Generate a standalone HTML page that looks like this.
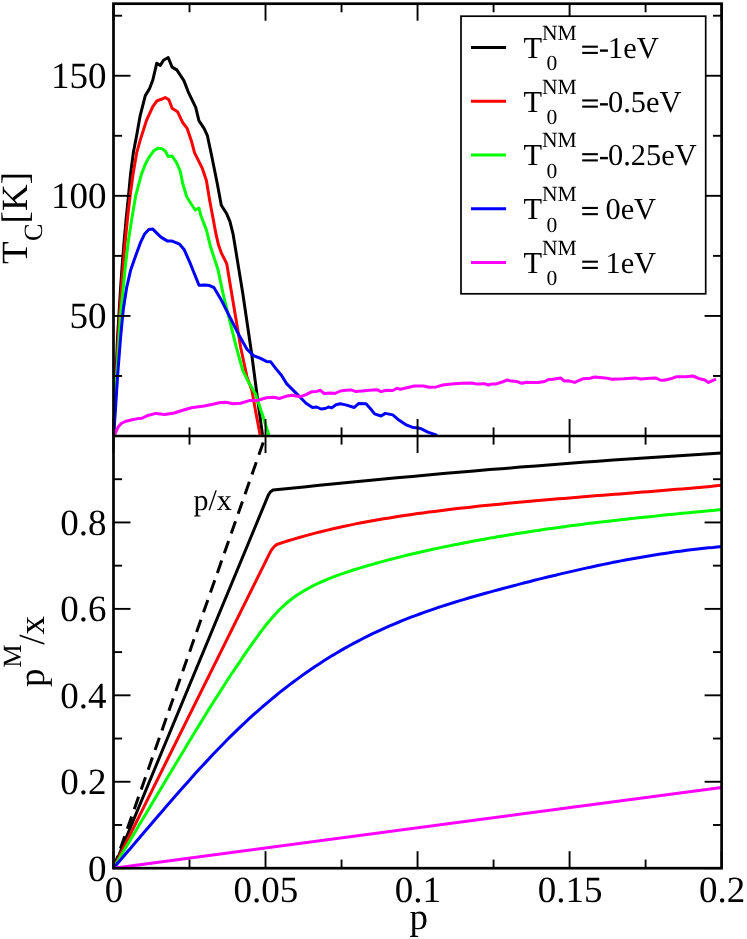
<!DOCTYPE html>
<html><head><meta charset="utf-8"><title>chart</title>
<style>html,body{margin:0;padding:0;background:#fff;}svg{display:block;will-change:transform;transform:translateZ(0);}text{font-family:"Liberation Serif",serif;fill:#000;text-rendering:geometricPrecision;}</style></head><body>
<svg width="747" height="939" viewBox="0 0 747 939">
<rect x="0" y="0" width="747" height="939" fill="#fff"/>
<defs><clipPath id="ct"><rect x="112.0" y="3.7" width="609.6" height="433.8"/></clipPath>
<clipPath id="cb"><rect x="112.0" y="437.4" width="609.6" height="432.2"/></clipPath></defs>
<g>
<line x1="113.5" y1="868.2" x2="265.5" y2="436.0" stroke="#000" stroke-width="3.0" stroke-dasharray="13 7.87" clip-path="url(#cb)"/>
<polyline points="113.5,868.2 268.2,495.4 270.3,492.0 273.0,490.1 288.5,488.5 303.9,486.9 319.4,485.3 334.9,483.8 350.3,482.2 365.8,480.7 381.3,479.3 396.8,477.8 412.2,476.4 427.7,475.0 443.2,473.6 458.6,472.3 474.1,470.9 489.6,469.6 505.0,468.4 520.5,467.1 536.0,465.9 551.4,464.7 566.9,463.5 582.4,462.3 597.8,461.2 613.3,460.1 628.8,459.0 644.3,457.9 659.7,456.9 675.2,455.9 690.7,454.9 706.1,453.9 721.6,452.9" fill="none" stroke="#000" stroke-width="3.0" stroke-linejoin="round" stroke-linecap="butt" clip-path="url(#cb)" />
<polyline points="113.5,868.2 271.0,550.7 272.6,548.6 274.4,546.4 276.8,544.5 282.4,542.6 288.1,540.8 293.7,539.1 299.3,537.5 305.0,535.9 310.6,534.4 316.2,532.9 321.8,531.5 327.5,530.1 333.1,528.8 338.7,527.5 344.4,526.3 350.0,525.1 355.6,523.9 361.3,522.8 366.9,521.8 372.5,520.7 378.1,519.8 383.8,518.8 389.4,517.9 395.0,517.0 400.7,516.1 406.3,515.2 411.9,514.4 417.6,513.6 423.2,512.9 428.8,512.1 434.5,511.4 440.1,510.7 445.7,510.0 451.3,509.3 457.0,508.6 462.6,508.0 468.2,507.4 473.9,506.7 479.5,506.1 485.1,505.6 490.8,505.0 496.4,504.4 502.0,503.9 507.6,503.3 513.3,502.8 518.9,502.3 524.5,501.7 530.2,501.2 535.8,500.7 541.4,500.2 547.1,499.8 552.7,499.3 558.3,498.8 563.9,498.4 569.6,497.9 575.2,497.4 580.8,497.0 586.5,496.5 592.1,496.1 597.7,495.6 603.4,495.2 609.0,494.8 614.6,494.3 620.3,493.9 625.9,493.4 631.5,493.0 637.1,492.5 642.8,492.1 648.4,491.7 654.0,491.2 659.7,490.7 665.3,490.3 670.9,489.8 676.6,489.3 682.2,488.9 687.8,488.4 693.4,487.9 699.1,487.4 704.7,486.9 710.3,486.4 716.0,485.8 721.6,485.3" fill="none" stroke="#f00" stroke-width="3.0" stroke-linejoin="round" stroke-linecap="butt" clip-path="url(#cb)" />
<polyline points="113.5,868.2 117.9,860.9 122.2,853.5 126.6,846.2 131.0,838.8 135.4,831.5 139.7,824.1 144.1,816.8 148.5,809.4 152.9,802.1 157.2,794.8 161.6,787.4 166.0,780.1 170.4,772.8 174.7,765.5 179.1,758.2 183.5,750.9 187.9,743.6 192.2,736.4 196.6,729.2 201.0,722.1 205.4,715.0 209.7,707.9 214.1,701.0 218.5,694.1 222.9,687.2 227.2,680.5 231.6,673.8 236.0,667.3 240.4,660.8 244.7,654.4 249.1,648.1 253.5,641.9 257.9,635.8 262.2,629.9 266.6,624.3 271.0,619.0 275.4,614.1 279.7,609.5 284.1,605.3 288.5,601.5 292.9,598.0 297.2,595.0 301.6,592.2 306.0,589.6 310.4,587.2 314.7,585.0 319.1,582.9 323.5,581.0 327.9,579.2 332.2,577.4 336.6,575.7 341.0,574.2 345.4,572.6 349.7,571.2 354.1,569.8 358.5,568.4 362.9,567.1 367.2,565.8 371.6,564.6 376.0,563.3 380.4,562.1 384.7,560.9 389.1,559.8 393.5,558.6 397.9,557.5 402.2,556.4 406.6,555.3 411.0,554.3 415.4,553.2 419.7,552.2 424.1,551.2 428.5,550.3 432.9,549.3 437.2,548.4 441.6,547.4 446.0,546.5 450.4,545.6 454.7,544.7 459.1,543.9 463.5,543.0 467.9,542.2 472.2,541.3 476.6,540.5 481.0,539.7 485.4,538.9 489.7,538.1 494.1,537.4 498.5,536.6 502.9,535.9 507.2,535.2 511.6,534.4 516.0,533.7 520.4,533.0 524.7,532.4 529.1,531.7 533.5,531.0 537.9,530.4 542.2,529.7 546.6,529.1 551.0,528.5 555.4,527.9 559.7,527.3 564.1,526.7 568.5,526.1 572.9,525.5 577.2,525.0 581.6,524.4 586.0,523.8 590.4,523.3 594.7,522.8 599.1,522.2 603.5,521.7 607.9,521.2 612.2,520.7 616.6,520.2 621.0,519.7 625.4,519.2 629.7,518.7 634.1,518.3 638.5,517.8 642.9,517.3 647.2,516.9 651.6,516.4 656.0,516.0 660.4,515.5 664.7,515.1 669.1,514.6 673.5,514.2 677.9,513.8 682.2,513.3 686.6,512.9 691.0,512.5 695.4,512.1 699.7,511.7 704.1,511.2 708.5,510.8 712.9,510.4 717.2,510.0 721.6,509.6" fill="none" stroke="#0f0" stroke-width="3.0" stroke-linejoin="round" stroke-linecap="butt" clip-path="url(#cb)" />
<polyline points="113.5,868.2 117.9,863.1 122.2,858.0 126.6,852.8 131.0,847.7 135.4,842.6 139.7,837.5 144.1,832.3 148.5,827.2 152.9,822.1 157.2,817.0 161.6,811.9 166.0,806.8 170.4,801.8 174.7,796.7 179.1,791.8 183.5,786.8 187.9,781.9 192.2,777.0 196.6,772.1 201.0,767.3 205.4,762.6 209.7,757.9 214.1,753.3 218.5,748.7 222.9,744.2 227.2,739.8 231.6,735.4 236.0,731.1 240.4,726.9 244.7,722.8 249.1,718.7 253.5,714.7 257.9,710.8 262.2,707.0 266.6,703.3 271.0,699.6 275.4,696.0 279.7,692.4 284.1,689.0 288.5,685.6 292.9,682.3 297.2,679.1 301.6,675.9 306.0,672.8 310.4,669.8 314.7,666.8 319.1,663.9 323.5,661.1 327.9,658.3 332.2,655.6 336.6,653.0 341.0,650.4 345.4,647.9 349.7,645.5 354.1,643.1 358.5,640.8 362.9,638.5 367.2,636.3 371.6,634.2 376.0,632.1 380.4,630.1 384.7,628.1 389.1,626.2 393.5,624.3 397.9,622.5 402.2,620.7 406.6,618.9 411.0,617.2 415.4,615.6 419.7,614.0 424.1,612.4 428.5,610.8 432.9,609.3 437.2,607.8 441.6,606.4 446.0,605.0 450.4,603.6 454.7,602.2 459.1,600.9 463.5,599.6 467.9,598.3 472.2,597.0 476.6,595.8 481.0,594.5 485.4,593.3 489.7,592.1 494.1,590.9 498.5,589.7 502.9,588.5 507.2,587.4 511.6,586.2 516.0,585.1 520.4,583.9 524.7,582.8 529.1,581.7 533.5,580.5 537.9,579.4 542.2,578.4 546.6,577.3 551.0,576.2 555.4,575.2 559.7,574.1 564.1,573.1 568.5,572.1 572.9,571.1 577.2,570.1 581.6,569.1 586.0,568.1 590.4,567.2 594.7,566.2 599.1,565.3 603.5,564.4 607.9,563.5 612.2,562.6 616.6,561.8 621.0,560.9 625.4,560.1 629.7,559.3 634.1,558.5 638.5,557.7 642.9,556.9 647.2,556.2 651.6,555.5 656.0,554.8 660.4,554.1 664.7,553.4 669.1,552.8 673.5,552.1 677.9,551.5 682.2,550.9 686.6,550.3 691.0,549.8 695.4,549.3 699.7,548.8 704.1,548.3 708.5,547.8 712.9,547.4 717.2,546.9 721.6,546.5" fill="none" stroke="#00f" stroke-width="3.0" stroke-linejoin="round" stroke-linecap="butt" clip-path="url(#cb)" />
<polyline points="113.5,868.2 721.6,787.4" fill="none" stroke="#f0f" stroke-width="3.0" stroke-linejoin="round" stroke-linecap="butt" clip-path="url(#cb)" />
</g>
<g>
<polyline points="113.5,436.0 114.5,412.0 116.0,376.0 117.4,340.0 118.9,315.3 120.7,286.3 122.3,263.9 124.1,241.6 126.1,219.3 128.5,195.8 130.5,174.6 133.4,152.3 136.6,135.7 140.0,116.4 145.3,95.6 149.6,88.5 152.8,80.0 156.7,63.3 160.3,65.4 163.5,60.3 168.2,57.5 172.1,67.1 176.8,69.9 183.9,80.6 188.2,91.8 195.7,107.4 198.9,120.7 204.2,128.6 207.4,135.7 211.7,156.0 217.1,182.8 221.3,205.2 226.7,213.8 229.9,221.3 233.1,234.2 235.7,250.0 242.8,293.5 251.3,351.3 257.8,400.6 262.5,434.9" fill="none" stroke="#000" stroke-width="3.0" stroke-linejoin="round" stroke-linecap="butt" clip-path="url(#ct)" />
<polyline points="113.5,436.0 114.6,412.0 116.3,376.0 118.2,340.0 119.6,315.3 121.6,286.3 123.4,263.9 125.2,241.6 127.4,219.3 130.1,195.8 133.0,174.6 136.8,152.3 140.3,139.9 146.4,120.7 152.8,106.7 157.1,100.7 161.4,99.3 165.2,97.5 168.9,99.7 172.1,108.2 177.5,111.7 182.8,122.8 187.1,128.2 191.4,141.0 194.6,152.8 202.1,167.8 206.4,180.6 209.6,199.9 212.8,217.0 216.0,234.2 218.5,245.0 221.3,252.8 226.7,263.6 229.9,282.8 235.3,315.0 240.6,347.0 247.0,377.0 251.8,389.9 255.6,411.3 259.9,433.8 260.3,436.0" fill="none" stroke="#f00" stroke-width="3.0" stroke-linejoin="round" stroke-linecap="butt" clip-path="url(#ct)" />
<polyline points="113.5,436.0 114.8,412.0 116.7,376.0 119.0,340.0 120.5,315.3 123.4,286.3 125.6,263.9 128.3,241.6 131.7,219.3 135.7,195.8 141.3,174.6 145.2,164.5 148.5,158.1 153.9,150.6 158.2,148.1 162.5,148.9 165.7,151.7 168.2,156.6 172.1,156.0 176.4,162.4 180.2,171.0 182.8,183.8 186.7,196.7 191.4,204.2 195.2,210.0 198.9,208.0 201.0,216.0 206.4,229.9 210.6,247.0 213.9,257.1 218.1,270.0 223.5,295.7 229.9,321.4 236.3,347.1 242.8,370.6 248.1,381.3 255.6,394.2 259.9,407.0 268.5,433.8 269.2,436.0" fill="none" stroke="#0f0" stroke-width="3.0" stroke-linejoin="round" stroke-linecap="butt" clip-path="url(#ct)" />
<polyline points="113.5,436.0 113.8,434.0 115.3,412.0 117.6,376.0 120.5,338.5 122.7,315.3 123.4,308.7 126.7,287.3 130.7,269.9 135.4,256.5 140.8,241.8 144.8,233.7 148.8,229.5 152.8,229.1 156.8,233.1 160.9,237.1 167.6,241.1 172.2,241.1 179.6,244.2 184.3,249.8 189.6,261.9 195.0,275.2 199.0,285.3 205.7,284.9 209.5,285.6 213.9,287.5 221.3,300.0 229.9,317.1 238.5,334.2 247.0,349.2 253.5,355.6 260.0,358.2 266.4,361.4 270.7,361.8 276.1,368.9 281.4,375.3 286.8,383.9 294.3,391.4 300.7,397.8 306.0,403.2 312.5,407.5 316.7,407.0 321.0,409.0 325.3,408.5 328.5,407.0 331.7,407.9 336.0,404.7 340.3,403.8 345.7,404.9 354.2,407.5 358.5,403.6 366.0,403.8 370.3,408.5 374.6,413.9 381.0,416.0 385.3,413.4 392.8,414.9 399.2,420.3 405.6,424.6 412.0,427.2 419.5,428.2 421.4,428.9 427.8,432.1 435.3,434.6 437.0,435.5" fill="none" stroke="#00f" stroke-width="3.0" stroke-linejoin="round" stroke-linecap="butt" clip-path="url(#ct)" />
<polyline points="113.5,436.5 115.0,434.3 116.4,430.5 118.4,426.8 121.2,423.5 126.0,421.2 132.0,419.8 137.9,418.6 142.1,418.2 148.5,415.2 156.0,413.4 164.6,414.5 174.2,413.0 182.8,410.2 191.4,407.7 204.2,406.0 212.8,404.2 219.2,402.7 225.6,402.3 233.1,403.8 240.6,403.2 249.2,400.6 257.8,400.2 266.4,397.8 273.9,397.2 279.3,398.5 285.7,396.3 292.1,395.2 300.7,396.7 306.0,394.6 311.4,391.8 316.7,391.4 320.4,390.3 324.2,393.5 330.7,392.9 334.9,393.5 340.3,391.0 345.7,390.3 351.0,389.9 355.3,391.4 361.7,391.0 369.2,390.3 377.3,389.7 381.0,391.6 386.3,390.3 392.8,390.5 397.0,388.2 400.3,389.3 407.8,387.5 414.2,386.0 423.6,386.0 428.9,387.3 436.4,386.9 442.8,385.0 451.4,383.9 462.1,383.3 471.7,383.0 477.1,384.1 484.6,383.7 488.4,385.0 492.1,383.9 496.4,383.9 502.8,381.8 507.1,380.0 511.4,381.1 516.7,381.5 522.1,383.3 526.3,382.2 531.7,382.6 538.1,382.6 544.6,381.5 548.8,379.4 553.1,379.2 560.6,377.9 564.3,381.1 568.1,380.7 574.7,382.4 582.8,378.8 590.3,378.3 594.6,377.0 605.3,377.9 611.8,379.2 623.5,378.8 635.3,377.9 640.7,379.0 650.3,378.3 655.7,377.9 659.9,380.0 664.2,380.3 670.6,378.8 676.0,376.8 685.6,376.8 693.1,376.0 699.6,378.8 704.9,380.0 708.5,382.4 712.4,380.7 716.0,379.2" fill="none" stroke="#f0f" stroke-width="3.0" stroke-linejoin="round" stroke-linecap="butt" clip-path="url(#ct)" />
</g>
<g>
<line x1="113.50" y1="3.70" x2="113.50" y2="20.70" stroke="#000" stroke-width="1.9"/>
<line x1="113.50" y1="419.00" x2="113.50" y2="453.00" stroke="#000" stroke-width="1.9"/>
<line x1="113.50" y1="851.20" x2="113.50" y2="868.20" stroke="#000" stroke-width="1.9"/>
<line x1="189.51" y1="3.70" x2="189.51" y2="12.30" stroke="#000" stroke-width="1.9"/>
<line x1="189.51" y1="427.40" x2="189.51" y2="444.60" stroke="#000" stroke-width="1.9"/>
<line x1="189.51" y1="859.60" x2="189.51" y2="868.20" stroke="#000" stroke-width="1.9"/>
<line x1="265.52" y1="3.70" x2="265.52" y2="20.70" stroke="#000" stroke-width="1.9"/>
<line x1="265.52" y1="419.00" x2="265.52" y2="453.00" stroke="#000" stroke-width="1.9"/>
<line x1="265.52" y1="851.20" x2="265.52" y2="868.20" stroke="#000" stroke-width="1.9"/>
<line x1="341.54" y1="3.70" x2="341.54" y2="12.30" stroke="#000" stroke-width="1.9"/>
<line x1="341.54" y1="427.40" x2="341.54" y2="444.60" stroke="#000" stroke-width="1.9"/>
<line x1="341.54" y1="859.60" x2="341.54" y2="868.20" stroke="#000" stroke-width="1.9"/>
<line x1="417.55" y1="3.70" x2="417.55" y2="20.70" stroke="#000" stroke-width="1.9"/>
<line x1="417.55" y1="419.00" x2="417.55" y2="453.00" stroke="#000" stroke-width="1.9"/>
<line x1="417.55" y1="851.20" x2="417.55" y2="868.20" stroke="#000" stroke-width="1.9"/>
<line x1="493.56" y1="3.70" x2="493.56" y2="12.30" stroke="#000" stroke-width="1.9"/>
<line x1="493.56" y1="427.40" x2="493.56" y2="444.60" stroke="#000" stroke-width="1.9"/>
<line x1="493.56" y1="859.60" x2="493.56" y2="868.20" stroke="#000" stroke-width="1.9"/>
<line x1="569.58" y1="3.70" x2="569.58" y2="20.70" stroke="#000" stroke-width="1.9"/>
<line x1="569.58" y1="419.00" x2="569.58" y2="453.00" stroke="#000" stroke-width="1.9"/>
<line x1="569.58" y1="851.20" x2="569.58" y2="868.20" stroke="#000" stroke-width="1.9"/>
<line x1="645.59" y1="3.70" x2="645.59" y2="12.30" stroke="#000" stroke-width="1.9"/>
<line x1="645.59" y1="427.40" x2="645.59" y2="444.60" stroke="#000" stroke-width="1.9"/>
<line x1="645.59" y1="859.60" x2="645.59" y2="868.20" stroke="#000" stroke-width="1.9"/>
<line x1="721.60" y1="3.70" x2="721.60" y2="20.70" stroke="#000" stroke-width="1.9"/>
<line x1="721.60" y1="419.00" x2="721.60" y2="453.00" stroke="#000" stroke-width="1.9"/>
<line x1="721.60" y1="851.20" x2="721.60" y2="868.20" stroke="#000" stroke-width="1.9"/>
<line x1="113.50" y1="436.00" x2="130.50" y2="436.00" stroke="#000" stroke-width="1.9"/>
<line x1="704.60" y1="436.00" x2="721.60" y2="436.00" stroke="#000" stroke-width="1.9"/>
<line x1="113.50" y1="375.96" x2="122.10" y2="375.96" stroke="#000" stroke-width="1.9"/>
<line x1="713.00" y1="375.96" x2="721.60" y2="375.96" stroke="#000" stroke-width="1.9"/>
<line x1="113.50" y1="315.92" x2="130.50" y2="315.92" stroke="#000" stroke-width="1.9"/>
<line x1="704.60" y1="315.92" x2="721.60" y2="315.92" stroke="#000" stroke-width="1.9"/>
<line x1="113.50" y1="255.88" x2="122.10" y2="255.88" stroke="#000" stroke-width="1.9"/>
<line x1="713.00" y1="255.88" x2="721.60" y2="255.88" stroke="#000" stroke-width="1.9"/>
<line x1="113.50" y1="195.83" x2="130.50" y2="195.83" stroke="#000" stroke-width="1.9"/>
<line x1="704.60" y1="195.83" x2="721.60" y2="195.83" stroke="#000" stroke-width="1.9"/>
<line x1="113.50" y1="135.79" x2="122.10" y2="135.79" stroke="#000" stroke-width="1.9"/>
<line x1="713.00" y1="135.79" x2="721.60" y2="135.79" stroke="#000" stroke-width="1.9"/>
<line x1="113.50" y1="75.75" x2="130.50" y2="75.75" stroke="#000" stroke-width="1.9"/>
<line x1="704.60" y1="75.75" x2="721.60" y2="75.75" stroke="#000" stroke-width="1.9"/>
<line x1="113.50" y1="15.71" x2="122.10" y2="15.71" stroke="#000" stroke-width="1.9"/>
<line x1="713.00" y1="15.71" x2="721.60" y2="15.71" stroke="#000" stroke-width="1.9"/>
<line x1="113.50" y1="868.20" x2="130.50" y2="868.20" stroke="#000" stroke-width="1.9"/>
<line x1="704.60" y1="868.20" x2="721.60" y2="868.20" stroke="#000" stroke-width="1.9"/>
<line x1="113.50" y1="824.98" x2="122.10" y2="824.98" stroke="#000" stroke-width="1.9"/>
<line x1="713.00" y1="824.98" x2="721.60" y2="824.98" stroke="#000" stroke-width="1.9"/>
<line x1="113.50" y1="781.76" x2="130.50" y2="781.76" stroke="#000" stroke-width="1.9"/>
<line x1="704.60" y1="781.76" x2="721.60" y2="781.76" stroke="#000" stroke-width="1.9"/>
<line x1="113.50" y1="738.54" x2="122.10" y2="738.54" stroke="#000" stroke-width="1.9"/>
<line x1="713.00" y1="738.54" x2="721.60" y2="738.54" stroke="#000" stroke-width="1.9"/>
<line x1="113.50" y1="695.32" x2="130.50" y2="695.32" stroke="#000" stroke-width="1.9"/>
<line x1="704.60" y1="695.32" x2="721.60" y2="695.32" stroke="#000" stroke-width="1.9"/>
<line x1="113.50" y1="652.10" x2="122.10" y2="652.10" stroke="#000" stroke-width="1.9"/>
<line x1="713.00" y1="652.10" x2="721.60" y2="652.10" stroke="#000" stroke-width="1.9"/>
<line x1="113.50" y1="608.88" x2="130.50" y2="608.88" stroke="#000" stroke-width="1.9"/>
<line x1="704.60" y1="608.88" x2="721.60" y2="608.88" stroke="#000" stroke-width="1.9"/>
<line x1="113.50" y1="565.66" x2="122.10" y2="565.66" stroke="#000" stroke-width="1.9"/>
<line x1="713.00" y1="565.66" x2="721.60" y2="565.66" stroke="#000" stroke-width="1.9"/>
<line x1="113.50" y1="522.44" x2="130.50" y2="522.44" stroke="#000" stroke-width="1.9"/>
<line x1="704.60" y1="522.44" x2="721.60" y2="522.44" stroke="#000" stroke-width="1.9"/>
<line x1="113.50" y1="479.22" x2="122.10" y2="479.22" stroke="#000" stroke-width="1.9"/>
<line x1="713.00" y1="479.22" x2="721.60" y2="479.22" stroke="#000" stroke-width="1.9"/>
<line x1="113.50" y1="436.00" x2="130.50" y2="436.00" stroke="#000" stroke-width="1.9"/>
<line x1="704.60" y1="436.00" x2="721.60" y2="436.00" stroke="#000" stroke-width="1.9"/>
</g>
<rect x="113.5" y="3.7" width="608.1" height="864.5" fill="none" stroke="#000" stroke-width="2.7"/>
<line x1="113.5" y1="436.0" x2="721.6" y2="436.0" stroke="#000" stroke-width="2.7"/>
<rect x="461.0" y="16.2" width="244.7" height="277.6" fill="#fff" stroke="#000" stroke-width="1.7"/>
<line x1="471" y1="47.40" x2="506.1" y2="47.40" stroke="#000" stroke-width="3"/>
<text x="523.6" y="57.8" font-size="30.4">T</text>
<text x="542.0" y="39.8" font-size="21.6">NM</text>
<text x="546.4" y="70.3" font-size="21.6">0</text>
<rect x="582.2" y="45.65" width="15.65" height="2.1" fill="#000"/>
<rect x="582.2" y="51.85" width="15.65" height="2.1" fill="#000"/>
<rect x="600.0" y="49.40" width="7.9" height="2.4" fill="#000"/>
<text x="607.97" y="57.8" font-size="30.4">1eV</text>
<line x1="471" y1="101.15" x2="506.1" y2="101.15" stroke="#f00" stroke-width="3"/>
<text x="523.6" y="111.5" font-size="30.4">T</text>
<text x="542.0" y="93.5" font-size="21.6">NM</text>
<text x="546.4" y="124.0" font-size="21.6">0</text>
<rect x="582.2" y="99.40" width="15.65" height="2.1" fill="#000"/>
<rect x="582.2" y="105.60" width="15.65" height="2.1" fill="#000"/>
<rect x="600.0" y="103.15" width="7.9" height="2.4" fill="#000"/>
<text x="607.97" y="111.5" font-size="30.4">0.5eV</text>
<line x1="471" y1="154.90" x2="506.1" y2="154.90" stroke="#0f0" stroke-width="3"/>
<text x="523.6" y="165.3" font-size="30.4">T</text>
<text x="542.0" y="147.3" font-size="21.6">NM</text>
<text x="546.4" y="177.8" font-size="21.6">0</text>
<rect x="582.2" y="153.15" width="15.65" height="2.1" fill="#000"/>
<rect x="582.2" y="159.35" width="15.65" height="2.1" fill="#000"/>
<rect x="600.0" y="156.90" width="7.9" height="2.4" fill="#000"/>
<text x="607.97" y="165.3" font-size="30.4">0.25eV</text>
<line x1="471" y1="208.65" x2="506.1" y2="208.65" stroke="#00f" stroke-width="3"/>
<text x="523.6" y="219.1" font-size="30.4">T</text>
<text x="542.0" y="201.1" font-size="21.6">NM</text>
<text x="546.4" y="231.6" font-size="21.6">0</text>
<rect x="582.2" y="206.90" width="15.65" height="2.1" fill="#000"/>
<rect x="582.2" y="213.10" width="15.65" height="2.1" fill="#000"/>
<text x="605.45" y="219.1" font-size="30.4">0eV</text>
<line x1="471" y1="262.40" x2="506.1" y2="262.40" stroke="#f0f" stroke-width="3"/>
<text x="523.6" y="272.8" font-size="30.4">T</text>
<text x="542.0" y="254.8" font-size="21.6">NM</text>
<text x="546.4" y="285.3" font-size="21.6">0</text>
<rect x="582.2" y="260.65" width="15.65" height="2.1" fill="#000"/>
<rect x="582.2" y="266.85" width="15.65" height="2.1" fill="#000"/>
<text x="605.45" y="272.8" font-size="30.4">1eV</text>
<text x="106.5" y="328.4" font-size="37" text-anchor="end">50</text>
<text x="106.5" y="208.3" font-size="37" text-anchor="end">100</text>
<text x="106.5" y="88.2" font-size="37" text-anchor="end">150</text>
<text x="106.5" y="880.7" font-size="37" text-anchor="end">0</text>
<text x="106.5" y="794.3" font-size="37" text-anchor="end">0.2</text>
<text x="106.5" y="707.8" font-size="37" text-anchor="end">0.4</text>
<text x="106.5" y="621.4" font-size="37" text-anchor="end">0.6</text>
<text x="106.5" y="534.9" font-size="37" text-anchor="end">0.8</text>
<text x="113.9" y="902.2" font-size="37" text-anchor="middle">0</text>
<text x="265.9" y="902.2" font-size="37" text-anchor="middle">0.05</text>
<text x="417.9" y="902.2" font-size="37" text-anchor="middle">0.1</text>
<text x="570.0" y="902.2" font-size="37" text-anchor="middle">0.15</text>
<text x="722.0" y="902.2" font-size="37" text-anchor="middle">0.2</text>
<text x="418.7" y="929" font-size="37" text-anchor="middle">p</text>
<text x="193.4" y="509.6" font-size="30">p/x</text>
<g transform="translate(27.1,263.9) rotate(-90)">
<text x="0" y="0" font-size="37">T</text>
<text x="22.9" y="14.6" font-size="26.3">C</text>
<text x="40.5" y="0" font-size="37">[K]</text>
</g>
<g transform="translate(43.5,687.1) rotate(-90)">
<text x="0" y="0" font-size="37">p</text>
<text x="19.3" y="-22.3" font-size="26.3">M</text>
<text x="42.3" y="0" font-size="37">/x</text>
</g>
</svg></body></html>
